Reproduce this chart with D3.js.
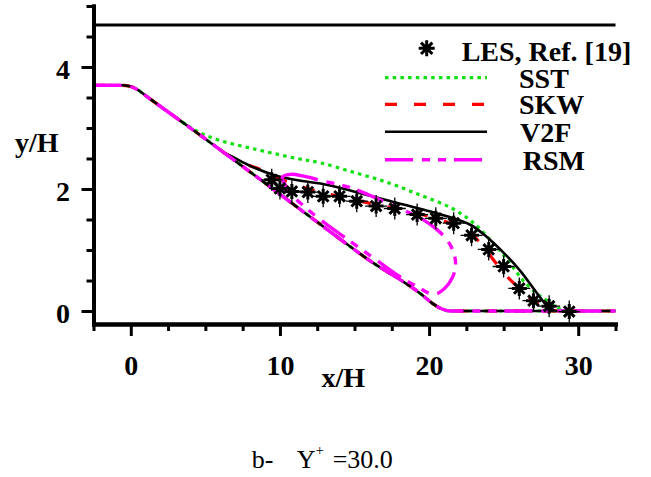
<!DOCTYPE html>
<html><head><meta charset="utf-8">
<script src="https://cdn.jsdelivr.net/npm/d3@7"></script>
<style>
html,body{margin:0;padding:0;background:#fff;}
svg{display:block;}
text{font-family:"Liberation Serif","Times New Roman",Times,serif;}
</style>
</head><body>
<svg id="c" width="651" height="477"></svg>
<script>
// ---------------- data (x/H, y/H) ----------------
const upperWall = [[-2.5, 4.69], [32.5, 4.69]];
const lowerWall = [[-2.5,3.7],[-0.6,3.7],[0,3.68],[0.5,3.62],[1,3.53],[1.5,3.44],[4,3.0],[8,2.28],[12.27,1.5],[16,0.83],[19.5,0.27],[20.2,0.13],[20.8,0.04],[21.4,0],[32.5,0]];
const sstUpper = [[3.0,3.18],[4.0,3.01],[5.0,2.88],[6.2,2.78],[7.5,2.7],[8.9,2.62],[11.15,2.5],[12.7,2.43],[15,2.27],[17.3,2.1],[19.4,1.9],[21.4,1.7],[22.9,1.46],[24.2,1.14],[25.35,0.81],[26.3,0.5],[27.26,0.28],[28.2,0.12],[28.8,0.03],[29.3,0]];
const skwUpper = [[6.2,2.6],[7.5,2.43],[8.9,2.3],[10.48,2.12],[12.27,1.98],[14.51,1.85],[16.52,1.74],[18.76,1.63],[20.4,1.52],[21.6,1.42],[22.8,1.27],[23.7,1.03],[25.1,0.6],[26.5,0.27],[27.3,0.12],[28.0,0.03],[28.6,0]];
const v2fUpper = [[6.2,2.6],[6.8,2.53],[8,2.38],[9.6,2.23],[11.5,2.13],[12.72,2.09],[14.95,1.96],[17.87,1.77],[20.1,1.63],[21.66,1.52],[22.79,1.41],[23.8,1.23],[25.02,0.95],[26.14,0.65],[27.03,0.36],[27.93,0.08],[28.4,0]];
const rsmLoop = [[10.15,2.19],[10.7,2.24],[11.6,2.21],[12.9,2.13],[14.5,2.04],[15.6,1.94],[17.2,1.77],[18.5,1.63],[19.65,1.49],[20.55,1.33],[21.22,1.16],[21.66,0.95],[21.78,0.75],[21.55,0.54],[21.0,0.36],[20.3,0.27],[19.2,0.4],[18.0,0.57],[16.5,0.83],[14.5,1.18],[12.7,1.5],[11.6,1.72],[10.9,1.88],[10.45,2.03]];
const lesX = [9.45,10.0,10.8,11.87,12.9,14.0,15.15,16.45,17.7,19.2,20.45,21.65,22.85,24.0,25.0,26.05,27.0,28.05,29.4];
const lesY = [2.15,2.01,1.96,1.95,1.88,1.88,1.8,1.72,1.68,1.58,1.52,1.44,1.24,1.01,0.73,0.37,0.17,0.08,-0.01];
const xMajor = [0,10,20,30];
const xMinor = [-2.5,2.5,5,7.5,12.5,15,17.5,22.5,25,27.5,32.5];
const yMajor = [0,2,4];
const yMinor = [0.5,1,1.5,2.5,3,3.5,4.5,5];
const legendLabels = ["LES, Ref. [19]","SST","SKW","V2F","RSM"];

// ---------------- setup ----------------
const svg = d3.select("#c");
const x = d3.scaleLinear().domain([-2.5, 32.5]).range([93.5, 615.5]);
const y = d3.scaleLinear().domain([-0.213, 5]).range([324, 6]);
const line = d3.line().x(d => x(d[0])).y(d => y(d[1]));
const lineM = d3.line().x(d => x(d[0])).y(d => y(d[1])).curve(d3.curveMonotoneX);
const lineC = d3.line().x(d => x(d[0])).y(d => y(d[1])).curve(d3.curveCatmullRom.alpha(0.5));
const lineLoop = d3.line().x(d => x(d[0])).y(d => y(d[1])).curve(d3.curveCatmullRomClosed.alpha(0.5));

const styles = {
  SST: {stroke:"#10e010", width:3.2, dash:"3.5,4.2"},
  SKW: {stroke:"#ff0000", width:3.2, dash:"12,17"},
  V2F: {stroke:"#000000", width:2.6, dash:null},
  RSM: {stroke:"#ff00ff", width:3.4, dash:"28,9,8,8,8,8"}
};
function drawPath(d, gen, s) {
  const p = svg.append("path").attr("d", gen(d)).attr("fill","none")
    .attr("stroke", s.stroke).attr("stroke-width", s.width);
  if (s.dash) p.attr("stroke-dasharray", s.dash);
  return p;
}

// upper wall
svg.append("path").attr("d", line(upperWall)).attr("fill","none").attr("stroke","#000").attr("stroke-width",3);

// model curves
drawPath(lowerWall, lineM, styles.SST);
drawPath(sstUpper, lineC, styles.SST);
drawPath(lowerWall, lineM, styles.SKW);
drawPath(skwUpper, lineC, styles.SKW);
drawPath(lowerWall, lineM, styles.V2F);
drawPath(v2fUpper, lineC, styles.V2F);
drawPath(lowerWall, lineM, styles.RSM);
drawPath(rsmLoop, lineLoop, styles.RSM);

// LES star markers
function star(g, thinLen, thickLen, w) {
  if (thinLen > 0) {
    g.append("path").attr("d", `M${-thinLen},0H${thinLen}M0,${-thinLen}V${thinLen}`)
      .attr("stroke","#000").attr("stroke-width",1.3);
  }
  let d = "";
  for (let i = 0; i < 4; i++) {
    const a = i * Math.PI / 4;
    const dx = Math.cos(a) * thickLen, dy = Math.sin(a) * thickLen;
    d += `M${-dx},${-dy}L${dx},${dy}`;
  }
  g.append("path").attr("d", d).attr("stroke","#000").attr("stroke-width",w).attr("stroke-linecap","butt");
  g.append("circle").attr("r", 3.6).attr("fill","#000");
}
const les = lesX.map((v,i) => [v, lesY[i]]);
les.forEach(p => {
  const g = svg.append("g").attr("transform", `translate(${x(p[0])},${y(p[1])})`);
  star(g, 11, 7.5, 3);
});

// ---------------- axes ----------------
const fontSpec = g => g.selectAll("text").attr("font-family","Liberation Serif, Times New Roman, serif")
  .attr("font-weight","bold").attr("font-size",28).attr("fill","#000");

const gxMinor = svg.append("g").attr("transform","translate(0,324)")
  .call(d3.axisBottom(x).tickValues(xMinor).tickSize(7).tickSizeOuter(0).tickFormat(""));
const gxMajor = svg.append("g").attr("transform","translate(0,324)")
  .call(d3.axisBottom(x).tickValues(xMajor).tickSize(12).tickSizeOuter(0).tickFormat(d3.format("d")));
gxMajor.call(fontSpec);
gxMajor.selectAll("text").attr("y", 51).attr("dy", 0);

const gyMinor = svg.append("g").attr("transform","translate(93.5,0)")
  .call(d3.axisLeft(y).tickValues(yMinor).tickSize(7).tickSizeOuter(0).tickFormat(""));
const gyMajor = svg.append("g").attr("transform","translate(93.5,0)")
  .call(d3.axisLeft(y).tickValues(yMajor).tickSize(12).tickSizeOuter(0).tickFormat(d3.format("d")));
gyMajor.call(fontSpec);
gyMajor.selectAll("text").attr("x", -23.5).attr("dy", 11.5);

[gxMinor, gxMajor, gyMinor, gyMajor].forEach(g => {
  g.selectAll(".domain").attr("stroke","#000").attr("stroke-width",4).attr("stroke-linecap","square");
  g.selectAll(".tick line").attr("stroke","#000").attr("stroke-width",3);
});

// axis titles
svg.append("text").attr("x", 15).attr("y", 152).attr("font-weight","bold").attr("font-size",28).text("y/H");
svg.append("text").attr("x", 321.5).attr("y", 386.5).attr("font-weight","bold").attr("font-size",28).text("x/H");

// ---------------- legend ----------------
const legStarG = svg.append("g").attr("transform","translate(426.7,48.3)");
star(legStarG, 0, 8, 3);
svg.append("text").attr("x", 461.7).attr("y", 61).attr("font-weight","bold").attr("font-size",28).text(legendLabels[0]);
const legRows = [
  {k:"SST", ly:77.7, tx:519, ty:87.7},
  {k:"SKW", ly:104.3, tx:519, ty:114.3},
  {k:"V2F", ly:131.7, tx:520, ty:141.7},
  {k:"RSM", ly:159.7, tx:522.7, ty:170}
];
legRows.forEach((r,i) => {
  const s = styles[r.k];
  const p = svg.append("line").attr("x1", 385).attr("x2", 487).attr("y1", r.ly).attr("y2", r.ly)
    .attr("stroke", s.stroke).attr("stroke-width", s.width);
  if (s.dash) p.attr("stroke-dasharray", s.dash);
  svg.append("text").attr("x", r.tx).attr("y", r.ty).attr("font-weight","bold").attr("font-size",28).text(legendLabels[i+1]);
});

// ---------------- caption ----------------
const cap = svg.append("g").attr("font-size", 26).attr("fill","#000");
cap.append("text").attr("x", 251.7).attr("y", 468).text("b-");
cap.append("text").attr("x", 296.7).attr("y", 468).text("Y");
cap.append("text").attr("x", 315.5).attr("y", 455).attr("font-size", 15).text("+");
cap.append("text").attr("x", 332.7).attr("y", 468).text("=30.0");
</script>
</body></html>
